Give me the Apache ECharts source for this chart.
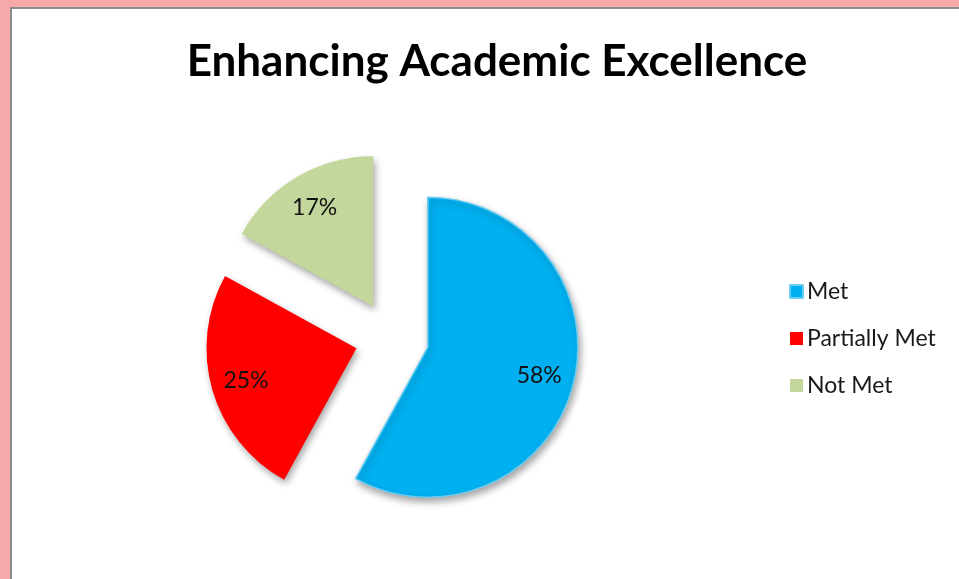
<!DOCTYPE html>
<html>
<head>
<meta charset="utf-8">
<style>
  html, body { margin: 0; padding: 0; background: #f5a9a9; }
  #chart { width: 959px; height: 579px; }
</style>
<script src="https://cdn.jsdelivr.net/npm/echarts@6/dist/echarts.min.js"></script>
</head>
<body>
<div id="chart"></div>
<script>
// Survey outcome shares (percent)
const categories = ['Met', 'Partially Met', 'Not Met'];
const shares = [58, 25, 17];
const sliceColors = ['#00b0f0', '#ff0000', '#c3d69b'];
const sliceBorders = ['#6ccdf2', '#ff0000', '#c3d69b'];

const chart = echarts.init(document.getElementById('chart'));

const FONT = 'Lato, "Open Sans", sans-serif';
const center = [392, 338];
const R = 150;

const slices = categories.map((name, i) => ({
  name,
  value: shares[i],
  selected: true,
  itemStyle: { color: sliceColors[i], borderColor: sliceBorders[i], borderWidth: i === 0 ? 1.5 : 0 }
}));

chart.setOption({
  backgroundColor: '#f5a9a9',
  animation: false,
  graphic: [
    { type: 'rect', z: -10, shape: { x: 10, y: 7, width: 960, height: 580 },
      style: { fill: '#8c8c8c' } },
    { type: 'rect', z: -9, shape: { x: 12, y: 9, width: 960, height: 580 },
      style: { fill: '#ffffff' } }
  ],
  title: {
    text: 'Enhancing Academic Excellence',
    left: 492, top: 35, textAlign: 'center',
    textStyle: { fontFamily: FONT, fontWeight: 'bold', fontSize: 44, color: '#000' }
  },
  legend: {
    orient: 'vertical',
    left: 784, top: 275,
    itemWidth: 13, itemHeight: 13, itemGap: 24,
    icon: 'rect',
    data: categories,
    textStyle: { fontFamily: FONT, fontSize: 23, color: '#1a1a1a', padding: [0, 0, 0, -1] }
  },
  series: [
    {
      type: 'pie',
      center, radius: R,
      startAngle: 90, clockwise: true,
      selectedMode: 'multiple', selectedOffset: 37,
      label: { show: false }, labelLine: { show: false },
      itemStyle: { shadowBlur: 7, shadowOffsetX: 2, shadowOffsetY: 4, shadowColor: 'rgba(0,0,0,0.35)' },
      emphasis: { disabled: true },
      data: slices
    },
    {
      // transparent ring that only carries the percentage labels
      type: 'pie',
      center, radius: [74, R],
      startAngle: 90, clockwise: true,
      selectedMode: 'multiple', selectedOffset: 37,
      silent: true,
      itemStyle: { color: 'rgba(0,0,0,0)' },
      label: {
        show: true, position: 'inside',
        formatter: p => p.value + '%',
        fontFamily: FONT, fontSize: 23, color: '#111'
      },
      labelLine: { show: false },
      emphasis: { disabled: true },
      data: categories.map((name, i) => ({ name, value: shares[i], selected: true }))
    }
  ]
});
</script>
</body>
</html>
